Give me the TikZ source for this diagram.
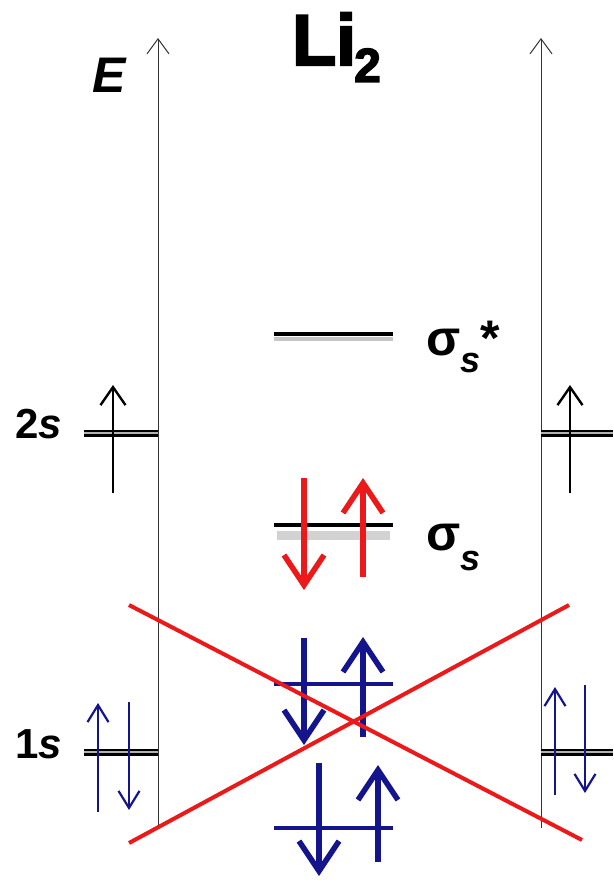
\documentclass[tikz,border=0pt]{standalone}
\usepackage{fontspec}
\setmainfont{Liberation Sans}
\newfontfamily\heavyfont[FakeBold=3]{Liberation Sans Bold}
\usetikzlibrary{arrows.meta}
\definecolor{navy}{RGB}{20,20,140}
\definecolor{xred}{RGB}{235,25,25}
\begin{document}
\begin{tikzpicture}[x=1pt,y=-1pt,
  axisline/.style={draw=black!80, line width=1pt, -{Straight Barb[length=15pt,width=22pt]}},
  aolevel/.style={draw=black, line width=7pt},
  aomid/.style={draw=gray!60, line width=2pt},
  molevel/.style={draw=black, line width=4.5pt},
  moshadow/.style={draw=gray!45, line width=5pt},
  bluelevel/.style={draw=navy, line width=4.5pt},
  thinspin/.style={draw=black, line width=2.4pt, -{Straight Barb[length=18pt,width=25pt]}},
  bluespin/.style={draw=navy, line width=2.2pt, -{Straight Barb[length=17pt,width=21pt]}},
  redspin/.style={draw=xred, line width=5.5pt, -{Straight Barb[length=30pt,width=40pt]}},
  navyspin/.style={draw=navy, line width=5.5pt, -{Straight Barb[length=30pt,width=40pt]}},
  cross/.style={draw=xred, line width=4pt},
  lbl/.style={inner sep=0pt, anchor=base west}
]
\useasboundingbox (0,0) rectangle (613,880);

% axes
\coordinate (lax0) at (158,828); \coordinate (lax1) at (158,38);
\coordinate (rax0) at (541,828); \coordinate (rax1) at (541,38);
\draw[axisline] (lax0) -- (lax1);
\draw[axisline] (rax0) -- (rax1);

% labels
\node[lbl] (E) at (92,93) {\fontsize{50}{50}\selectfont\bfseries\itshape E};
\node[lbl] (title) at (292,65) {\heavyfont\fontsize{72}{72}\selectfont Li\kern-2pt\raisebox{-17pt}{\fontsize{48}{48}\selectfont 2}};
\node[lbl] (l2s) at (15,438) {\fontsize{42}{42}\selectfont\bfseries 2\textit{s}};
\node[lbl] (l1s) at (15,758) {\fontsize{42}{42}\selectfont\bfseries 1\textit{s}};
\node[lbl] (lss) at (426,355) {\fontsize{50}{50}\selectfont\bfseries σ\raisebox{-17pt}{\fontsize{36}{36}\selectfont\itshape s}*};
\node[lbl] (ls) at (426,550) {\fontsize{50}{50}\selectfont\bfseries σ\raisebox{-20pt}{\fontsize{36}{36}\selectfont\itshape s}};

% atomic levels
\coordinate (a2l0) at (84,433); \coordinate (a2l1) at (158,433);
\coordinate (a2r0) at (541,433); \coordinate (a2r1) at (613,433);
\coordinate (a1l0) at (84,752); \coordinate (a1l1) at (158,752);
\coordinate (a1r0) at (541,752); \coordinate (a1r1) at (613,752);
\foreach \a/\b in {a2l0/a2l1,a2r0/a2r1,a1l0/a1l1,a1r0/a1r1}{
  \draw[aolevel] (\a) -- (\b);
  \draw[aomid] (\a) -- (\b);
}

% molecular levels
\coordinate (ssh0) at (274,339); \coordinate (ssh1) at (393,339);
\coordinate (ss0) at (274,334); \coordinate (ss1) at (393,334);
\draw[moshadow, line width=4pt] (ssh0) -- (ssh1);
\draw[molevel] (ss0) -- (ss1);
\coordinate (sh0) at (277,535); \coordinate (sh1) at (390,535);
\coordinate (s0) at (274,525); \coordinate (s1) at (393,525);
\draw[moshadow, draw=gray!35, line width=9pt] (sh0) -- (sh1);
\draw[molevel] (s0) -- (s1);
\coordinate (b10) at (274,684); \coordinate (b11) at (393,684);
\coordinate (b20) at (274,828); \coordinate (b21) at (393,828);
\draw[bluelevel] (b10) -- (b11);
\draw[bluelevel] (b20) -- (b21);

% 2s electrons
\coordinate (e1a) at (113,493); \coordinate (e1b) at (113,385);
\coordinate (e2a) at (570,493); \coordinate (e2b) at (570,385);
\draw[thinspin] (e1a) -- (e1b);
\draw[thinspin] (e2a) -- (e2b);

% 1s electrons
\coordinate (f1a) at (98,812); \coordinate (f1b) at (98,703);
\coordinate (f2a) at (129,702); \coordinate (f2b) at (129,810);
\coordinate (f3a) at (555,795); \coordinate (f3b) at (555,687);
\coordinate (f4a) at (585,685); \coordinate (f4b) at (585,793);
\draw[bluespin] (f1a) -- (f1b);
\draw[bluespin] (f2a) -- (f2b);
\draw[bluespin] (f3a) -- (f3b);
\draw[bluespin] (f4a) -- (f4b);

% sigma_s electrons
\coordinate (r1a) at (304,478); \coordinate (r1b) at (304,590);
\coordinate (r2a) at (363,577); \coordinate (r2b) at (363,478);
\draw[redspin] (r1a) -- (r1b);
\draw[redspin] (r2a) -- (r2b);

% core MO electrons
\coordinate (n1a) at (304,638); \coordinate (n1b) at (304,745);
\coordinate (n2a) at (363,737); \coordinate (n2b) at (363,637);
\coordinate (n3a) at (319,763); \coordinate (n3b) at (319,876);
\coordinate (n4a) at (378,862); \coordinate (n4b) at (378,765);
\draw[navyspin] (n1a) -- (n1b);
\draw[navyspin] (n2a) -- (n2b);
\draw[navyspin] (n3a) -- (n3b);
\draw[navyspin] (n4a) -- (n4b);

% red cross
\coordinate (x1a) at (129,605); \coordinate (x1b) at (582,840);
\coordinate (x2a) at (129,843); \coordinate (x2b) at (569,605);
\draw[cross] (x1a) -- (x1b);
\draw[cross] (x2a) -- (x2b);
\end{tikzpicture}
\end{document}
